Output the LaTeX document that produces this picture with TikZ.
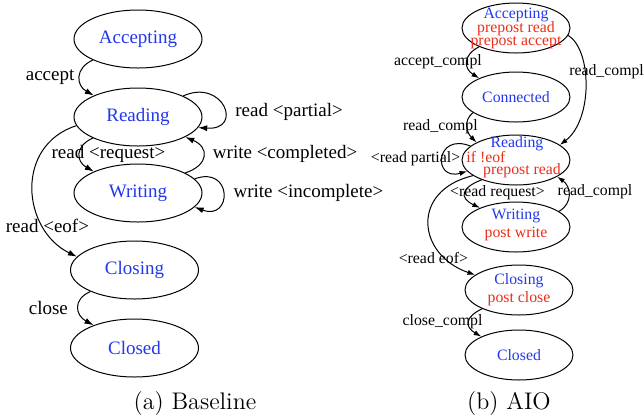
\documentclass[tikz,border=0pt]{standalone}
\usepackage{fontspec}
\newfontfamily\dotfont{Liberation Serif}
\usetikzlibrary{arrows.meta,shapes.geometric}
\definecolor{stateblue}{RGB}{35,55,235}
\definecolor{actred}{RGB}{235,45,25}
\tikzset{
  state/.style={draw, ellipse, line width=0.5pt, minimum width=64pt, minimum height=29pt,
    inner sep=0pt, font=\dotfont\fontsize{9.5}{11}\selectfont, text=stateblue},
  smallstate/.style={draw, ellipse, line width=0.5pt, minimum width=54pt, minimum height=25pt, inner sep=0pt},
  statetext/.style={font=\dotfont\fontsize{7.9}{9}\selectfont, align=center, inner sep=0pt},
  trans/.style={line width=0.5pt, -{Latex[length=4.5pt,width=3pt]}},
  smalltrans/.style={line width=0.5pt, -{Latex[length=3.8pt,width=2.6pt]}},
  lbl/.style={font=\dotfont\fontsize{9.5}{11}\selectfont, inner sep=0pt},
  smalllbl/.style={font=\dotfont\fontsize{7.9}{9}\selectfont, inner sep=0pt}
}
\begin{document}
\begin{tikzpicture}[x=0.5pt,y=-0.5pt]
        \useasboundingbox (0,0) rectangle (644,419);

        % (a) baseline states
        \node[state] (accA) at (138,39) {Accepting};
        \node[state] (readA) at (138,117) {Reading};
        \node[state] (writeA) at (138,193) {Writing};
        \node[state] (closingA) at (134.5,270) {Closing};
        \node[state] (closedA) at (134.5,348) {Closed};

        % (a) transitions
        \draw[trans] (accA.205) .. controls +(-18,8) and +(-18,-10) .. (readA.154)
          node[lbl, pos=.5, anchor=east, xshift=-2.5pt] {accept};
        \draw[trans] (readA.25) .. controls +(40,-18) and +(46,3) .. (readA.-10)
          node[lbl, pos=.5, anchor=west, xshift=6pt, yshift=-3pt] {read <partial>};
        \draw[trans] (readA.205) .. controls +(-18,8) and +(-18,-10) .. (writeA.154)
          node[lbl, pos=.5, xshift=14.3pt] {read <request>};
        \draw[trans] (writeA.23) .. controls +(24,-8) and +(24,10) .. (readA.-23)
          node[lbl, pos=.5, anchor=west, xshift=4.6pt, yshift=1pt] {write <completed>};
        \draw[trans] (writeA.14) .. controls +(38,-14) and +(38,14) .. (writeA.-14)
          node[lbl, pos=.5, anchor=west, xshift=5pt] {write <incomplete>};
        \draw[trans] (readA.188) .. controls +(-62,20) and +(-55,-27) .. (closingA.167)
          node[lbl, pos=.74, xshift=1.7pt] {read <eof>};
        \draw[trans] (closingA.206) .. controls +(-18,8) and +(-18,-10) .. (closedA.151)
          node[lbl, pos=.5, anchor=east, xshift=-5pt] {close};

        % (b) AIO states
        \node[smallstate] (accB) at (516,28) {};
        \node[statetext] (accBtxt) at (accB) {\textcolor{stateblue}{Accepting}\\[-2pt]
          \textcolor{actred}{prepost read}\\[-2.5pt]\textcolor{actred}{prepost accept}};
        \node[smallstate] (connB) at (516,97) {};
        \node[statetext, text=stateblue] (connBtxt) at (connB) {Connected};
        \node[smallstate] (readB) at (516,160) {};
        \node[statetext, text=stateblue] (readBtxt) at ([shift={(1,-16)}]readB) {Reading};
        \node[statetext, text=actred, anchor=west] (eofBtxt) at ([shift={(-50,-2.5)}]readB) {if !eof};
        \node[statetext, text=actred] (ppBtxt) at ([shift={(6,10.5)}]readB) {prepost read};
        \node[smallstate] (writeB) at (516,227) {};
        \node[statetext] (writeBtxt) at ([shift={(0,-2)}]writeB) {\textcolor{stateblue}{Writing}\\
          \textcolor{actred}{post write}};
        \node[smallstate] (closingB) at (519,290) {};
        \node[statetext] (closingBtxt) at (closingB) {\textcolor{stateblue}{Closing}\\
          \textcolor{actred}{post close}};
        \node[smallstate] (closedB) at (519,355) {};
        \node[statetext, text=stateblue] (closedBtxt) at (closedB) {Closed};

        % (b) transitions
        \draw[smalltrans] (accB.207) .. controls +(-16,8) and +(-16,-10) .. (connB.153)
          node[smalllbl, pos=.5, xshift=-14.6pt] {accept\_compl};
        \draw[smalltrans] (accB.-8) .. controls +(24,15) and +(33,-25) .. (readB.19)
          node[smalllbl, pos=.4, xshift=10.7pt, yshift=.5pt] {read\_compl};
        \draw[smalltrans] (connB.200) .. controls +(-10,8) and +(-10,-10) .. (readB.156)
          node[smalllbl, pos=.5, xshift=-13.4pt] {read\_compl};
        \draw[smalltrans] (readB.163) .. controls +(-35,-14) and +(-35,10) .. (readB.193)
          node[smalllbl, pos=.5, xshift=-13.5pt, yshift=-1pt] {<read partial>};
        \draw[smalltrans] (readB.210) .. controls +(-21,8) and +(-21,-10) .. (writeB.152)
          node[smalllbl, pos=.5, xshift=16.2pt] {<read request>};
        \draw[smalltrans] (writeB.20) .. controls +(14,-8) and +(14,10) .. (readB.-22)
          node[smalllbl, pos=.5, xshift=13.2pt, yshift=1.4pt] {read\_compl};
        \draw[smalltrans] (readB.200) .. controls +(-63,15) and +(-58,-20) .. (closingB.161)
          node[smalllbl, pos=.8, xshift=-6.6pt] {<read eof>};
        \draw[smalltrans] (closingB.207) .. controls +(-17,8) and +(-17,-10) .. (closedB.154)
          node[smalllbl, pos=.5, xshift=-13.2pt] {close\_compl};

        % captions
        \node[font=\fontsize{12}{14}\selectfont] (capA) at (195,404) {(a) Baseline};
        \node[font=\fontsize{12}{14}\selectfont] (capB) at (509,404) {(b) AIO};
\end{tikzpicture}
\end{document}
